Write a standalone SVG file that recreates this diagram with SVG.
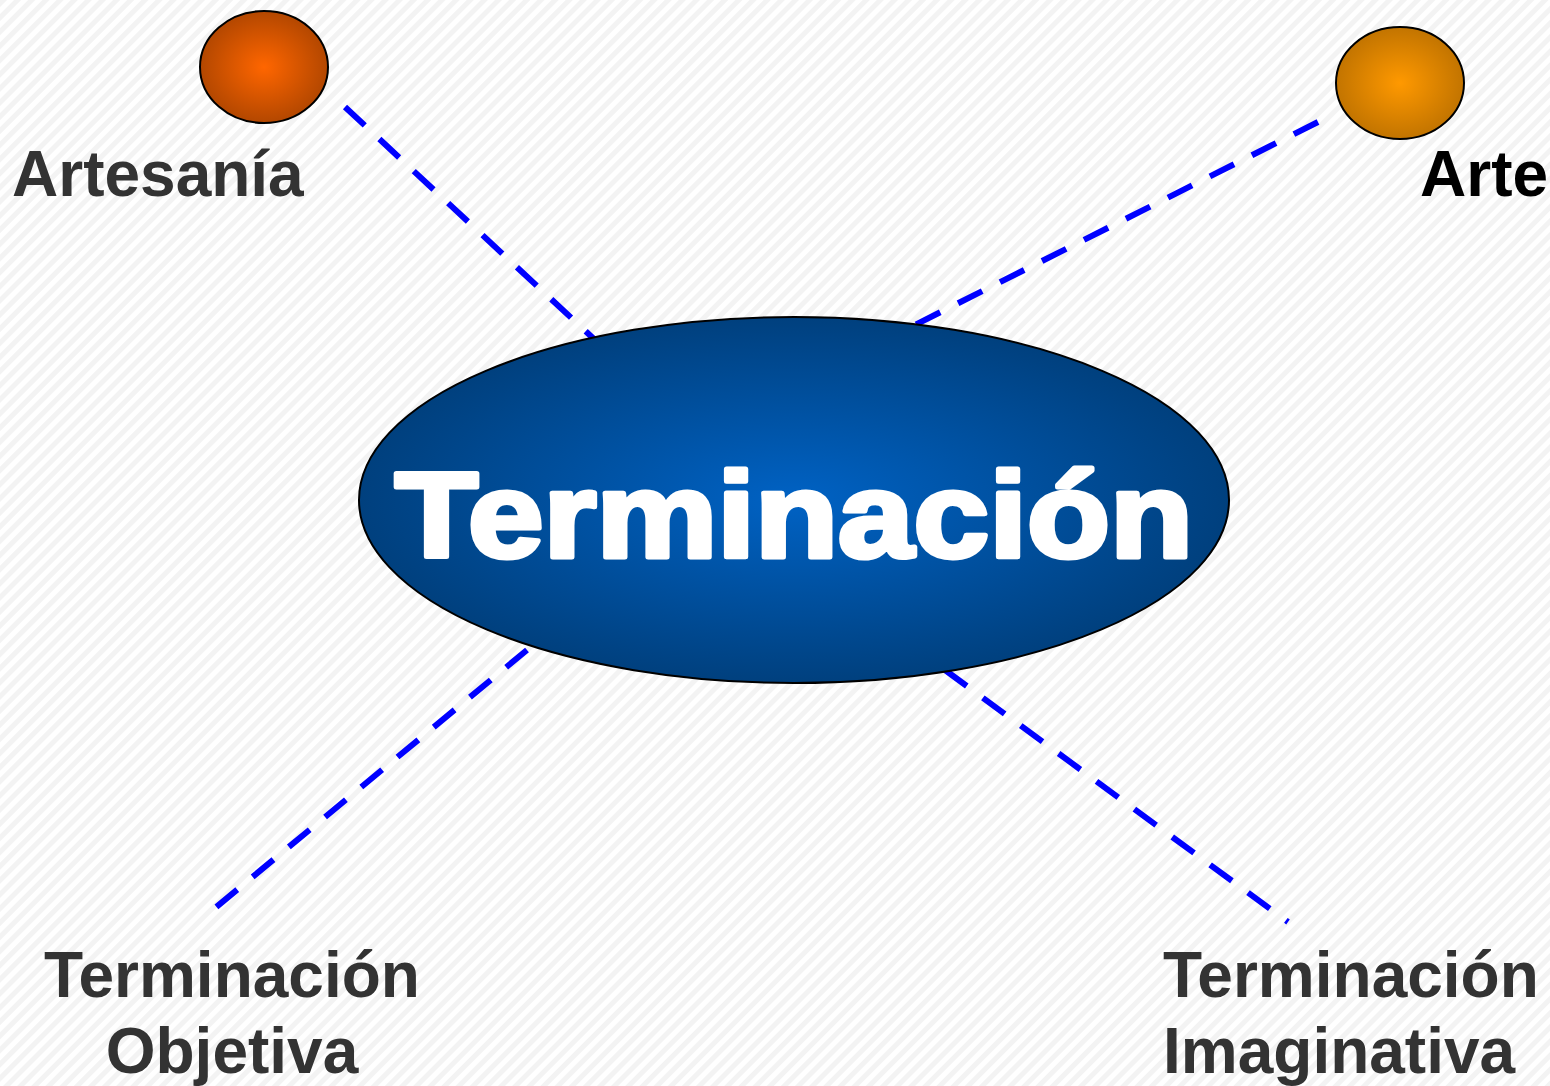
<svg xmlns="http://www.w3.org/2000/svg" width="1550" height="1086" viewBox="0 0 1550 1086">
  <defs>
    <pattern id="stripes" width="10" height="10" patternUnits="userSpaceOnUse" patternTransform="rotate(45)">
      <rect width="10" height="10" fill="#ffffff"/>
      <rect width="5" height="10" fill="#f3f3f3"/>
    </pattern>
    <radialGradient id="gBlue" cx="50%" cy="50%" r="50%">
      <stop offset="0" stop-color="#0062c4"/>
      <stop offset="1" stop-color="#00407e"/>
    </radialGradient>
    <radialGradient id="gOrange" cx="50%" cy="50%" r="50%">
      <stop offset="0" stop-color="#ff6600"/>
      <stop offset="1" stop-color="#b34700"/>
    </radialGradient>
    <radialGradient id="gAmber" cx="50%" cy="50%" r="50%">
      <stop offset="0" stop-color="#ff9900"/>
      <stop offset="1" stop-color="#c27400"/>
    </radialGradient>
  </defs>
  <style>
    .conn { stroke: #0000ff; stroke-width: 6; stroke-dasharray: 27 20; fill: none; }
    .lbl { font-family: "Liberation Sans", Arial, sans-serif; font-weight: bold; font-size: 64px; fill: #333333; }
    .node { stroke: #000000; stroke-width: 2; }
  </style>
  <rect width="1550" height="1086" fill="url(#stripes)"/>

  <g id="connectors">
    <line class="conn" x1="345" y1="107" x2="595" y2="340"/>
    <line class="conn" x1="1318" y1="122" x2="915" y2="325"/>
    <line class="conn" x1="527" y1="650" x2="215" y2="908"/>
    <line class="conn" x1="945" y1="670" x2="1288" y2="922"/>
  </g>

  <g id="node-center">
    <ellipse class="node" cx="794" cy="500" rx="435" ry="183" fill="url(#gBlue)"/>
    <text x="395" y="557" font-family="'Liberation Sans', Arial, sans-serif" font-weight="bold" font-size="121" fill="#ffffff" stroke="#ffffff" stroke-width="5" stroke-linejoin="round" textLength="798" lengthAdjust="spacingAndGlyphs">Terminación</text>
  </g>

  <g id="node-artesania">
    <ellipse class="node" cx="264" cy="67" rx="64" ry="56" fill="url(#gOrange)"/>
    <text class="lbl" x="12" y="196">Artesanía</text>
  </g>

  <g id="node-arte">
    <ellipse class="node" cx="1400" cy="83" rx="64" ry="56" fill="url(#gAmber)"/>
    <text class="lbl" x="1420" y="196" style="fill:#000000">Arte</text>
  </g>

  <g id="node-objetiva">
    <text class="lbl" x="232" y="997" text-anchor="middle">Terminación</text>
    <text class="lbl" x="232" y="1073" text-anchor="middle">Objetiva</text>
  </g>

  <g id="node-imaginativa">
    <text class="lbl" x="1163" y="997">Terminación</text>
    <text class="lbl" x="1163" y="1073">Imaginativa</text>
  </g>
</svg>
